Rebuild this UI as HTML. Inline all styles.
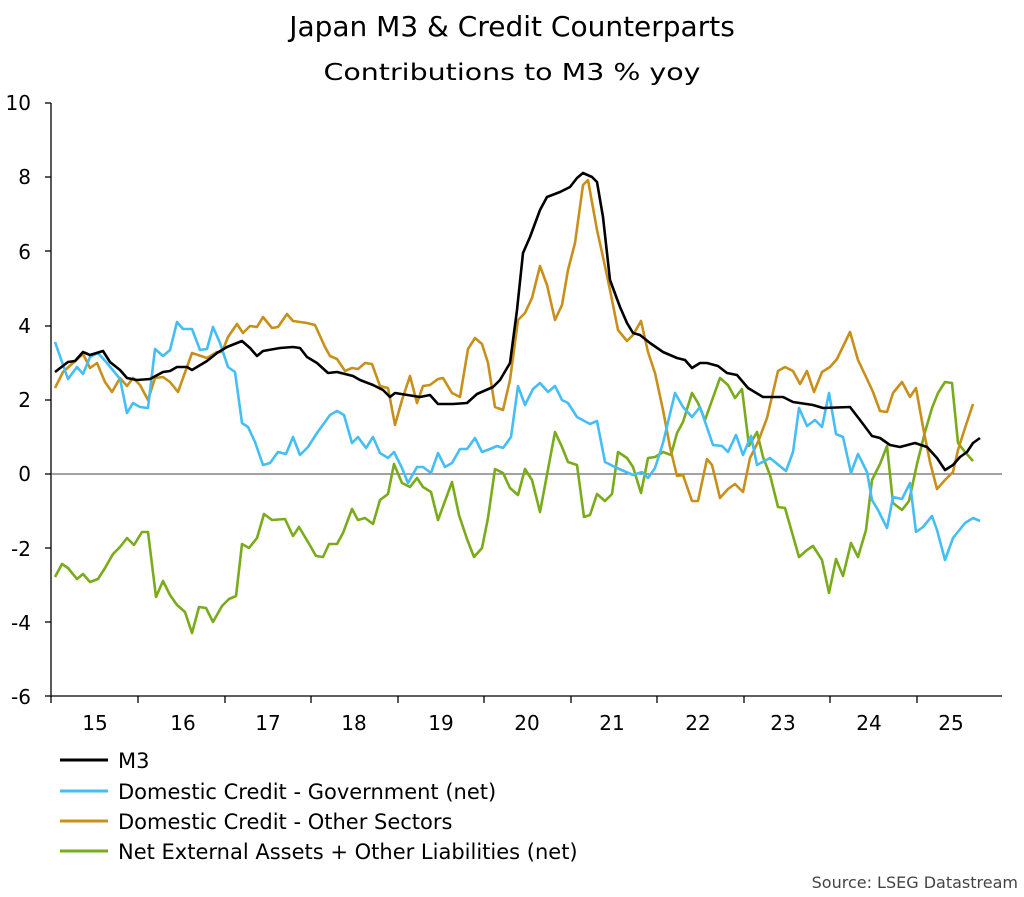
<!DOCTYPE html>
<html><head><meta charset="utf-8"><style>
body{margin:0;background:#fff;}
svg{display:block;font-family:"DejaVu Sans","Liberation Sans",sans-serif;}
</style></head><body>
<svg width="1024" height="897" viewBox="0 0 1024 897">
<text x="512" y="36" font-size="28" text-anchor="middle" fill="#000">Japan M3 &amp; Credit Counterparts</text>
<text x="512" y="80" font-size="23" text-anchor="middle" fill="#000" textLength="377" lengthAdjust="spacingAndGlyphs">Contributions to M3 % yoy</text>
<g font-size="20" fill="#000" text-anchor="end">
<text x="31" y="110">10</text><text x="31" y="184">8</text><text x="31" y="259">6</text><text x="31" y="333">4</text><text x="31" y="407">2</text><text x="31" y="481">0</text><text x="31" y="556">-2</text><text x="31" y="630">-4</text><text x="31" y="704">-6</text>
</g>
<g stroke="#000" stroke-width="1.3">
<line x1="51" y1="103" x2="51" y2="697"/>
<line x1="51" y1="696" x2="1002" y2="696"/>
<line x1="45" y1="103" x2="51" y2="103"/><line x1="45" y1="177" x2="51" y2="177"/><line x1="45" y1="251" x2="51" y2="251"/><line x1="45" y1="326" x2="51" y2="326"/><line x1="45" y1="400" x2="51" y2="400"/><line x1="45" y1="474" x2="51" y2="474"/><line x1="45" y1="548" x2="51" y2="548"/><line x1="45" y1="622" x2="51" y2="622"/><line x1="45" y1="696" x2="51" y2="696"/>
<line x1="51" y1="696" x2="51" y2="703"/><line x1="138" y1="696" x2="138" y2="703"/><line x1="225" y1="696" x2="225" y2="703"/><line x1="311" y1="696" x2="311" y2="703"/><line x1="398" y1="696" x2="398" y2="703"/><line x1="484" y1="696" x2="484" y2="703"/><line x1="571" y1="696" x2="571" y2="703"/><line x1="657" y1="696" x2="657" y2="703"/><line x1="744" y1="696" x2="744" y2="703"/><line x1="830" y1="696" x2="830" y2="703"/><line x1="917" y1="696" x2="917" y2="703"/>
</g>
<line x1="51" y1="474" x2="1002" y2="474" stroke="#444" stroke-width="1"/>
<g font-size="20" fill="#000" text-anchor="middle">
<text x="95" y="730">15</text><text x="183" y="730">16</text><text x="268" y="730">17</text><text x="354" y="730">18</text><text x="441" y="730">19</text><text x="527" y="730">20</text><text x="612" y="730">21</text><text x="698" y="730">22</text><text x="783" y="730">23</text><text x="869" y="730">24</text><text x="951" y="730">25</text>
</g>
<g fill="none" stroke-width="2.6" stroke-linejoin="round">
<polyline stroke="#7aab1a" points="55,577 62,564 68,568 77,579 83,574 90,582 98,579 105,568 113,554 120,547 127,538 134,545 142,532 148,532 156,597 163,581 170,595 177,605 185,612 192,633 199,607 206,608 213,622 222,606 229,599 236,596 242,544 249,548 257,538 264,514 272,520 285,519 293,536 299,527 308,542 316,556 323,557 329,544 337,544 343,533 352,509 358,520 365,518 373,524 380,500 388,494 394,464 402,483 410,487 417,478 423,487 431,492 438,520 445,501 452,482 459,515 467,539 474,557 482,548 488,518 495,469 503,473 510,488 518,495 525,469 532,480 540,512 555,432 562,447 568,462 577,465 584,517 590,515 597,494 605,501 612,494 618,452 627,458 633,467 641,493 648,458 655,457 663,452 671,455 677,433 683,422 692,393 698,403 705,420 720,378 728,385 735,398 742,389 749,446 757,432 763,457 770,475 778,507 785,508 799,557 807,550 813,546 822,560 829,593 836,559 843,576 851,543 858,557 866,530 872,480 880,464 887,446 893,503 902,510 909,501 917,464 925,432 932,408 938,393 945,382 952,383 958,443 965,452 973,461"/>
<polyline stroke="#c8901a" points="55,388 63,372 73,363 83,354 90,368 97,363 105,382 112,392 120,378 127,386 133,378 140,385 148,400 155,378 163,377 170,382 178,392 192,353 207,358 217,352 222,352 228,337 237,324 243,333 250,326 257,327 263,317 272,328 278,327 287,314 293,321 307,323 315,325 325,347 330,356 337,359 345,371 352,368 358,369 365,363 372,364 380,386 388,388 395,425 402,400 410,376 417,403 423,386 430,385 438,379 443,378 452,393 460,397 468,349 475,338 482,344 488,363 495,407 503,410 510,380 518,320 525,313 532,298 540,266 547,285 555,320 562,305 568,270 575,243 583,185 588,180 597,230 603,257 610,290 618,330 627,341 633,335 641,321 648,352 655,373 663,410 670,447 677,476 683,475 692,501 698,501 707,459 712,465 720,498 728,489 735,484 743,492 750,458 758,442 767,418 778,371 785,367 793,371 800,384 807,371 814,392 822,372 830,367 837,359 850,332 858,360 867,379 873,392 880,411 887,412 893,393 902,382 910,397 916,388 923,427 930,462 937,489 945,480 953,472 958,450 965,428 973,404"/>
<polyline stroke="#45bef5" points="55,342 62,362 68,379 77,367 83,374 90,357 98,353 107,363 120,379 127,413 133,403 140,407 148,408 155,349 163,356 170,350 177,322 183,329 192,329 200,350 207,349 213,327 220,343 228,367 235,372 242,423 248,427 255,442 263,465 270,463 278,452 286,454 293,437 300,455 308,447 317,433 330,415 337,411 344,415 352,443 358,437 366,448 373,437 380,453 388,458 394,452 402,468 408,483 417,467 423,467 431,473 438,453 445,467 452,463 460,449 467,449 475,438 482,452 490,449 497,446 503,448 511,437 518,386 525,405 533,389 540,383 548,392 555,386 562,400 568,403 577,417 590,424 597,421 605,462 617,468 633,475 642,472 648,478 655,468 663,443 675,393 683,407 692,417 700,407 713,445 722,446 728,452 736,435 743,455 751,436 757,465 770,458 786,471 793,452 799,408 807,426 815,420 822,427 829,393 836,434 843,437 851,473 858,454 867,472 872,500 878,510 887,528 893,497 902,499 910,483 916,532 923,527 932,516 937,530 945,560 953,538 965,523 973,518 980,521"/>
<polyline stroke="#000" points="55,372 68,362 75,361 83,352 90,355 103,351 110,362 120,370 127,378 137,380 150,379 163,372 170,371 177,367 187,367 192,370 207,361 217,353 227,347 242,341 250,348 257,356 263,351 280,348 293,347 300,348 307,357 317,363 328,373 337,372 353,376 360,380 373,385 383,390 390,397 395,393 420,397 430,395 438,404 453,404 467,403 477,394 493,387 500,380 510,363 517,310 523,253 530,237 540,210 547,197 560,192 570,187 577,178 583,173 592,177 597,182 603,217 610,280 620,307 627,323 633,333 640,335 650,343 663,352 677,358 685,360 692,368 700,363 707,363 718,366 727,373 737,375 748,388 763,397 783,397 793,402 813,405 823,408 850,407 860,420 872,436 880,438 890,445 900,447 915,443 927,447 937,458 945,470 953,465 960,457 967,452 973,443 980,438"/>
</g>
<g stroke-width="3">
<line x1="60" y1="760" x2="108" y2="760" stroke="#000"/>
<line x1="60" y1="791" x2="108" y2="791" stroke="#45bef5"/>
<line x1="60" y1="821" x2="108" y2="821" stroke="#c8901a"/>
<line x1="60" y1="851" x2="108" y2="851" stroke="#7aab1a"/>
</g>
<g font-size="21" fill="#000">
<text x="118" y="768">M3</text>
<text x="118" y="799">Domestic Credit - Government (net)</text>
<text x="118" y="829">Domestic Credit - Other Sectors</text>
<text x="118" y="859">Net External Assets + Other Liabilities (net)</text>
</g>
<text x="1018" y="888" font-size="16" fill="#444" text-anchor="end">Source: LSEG Datastream</text>
</svg>
</body></html>
